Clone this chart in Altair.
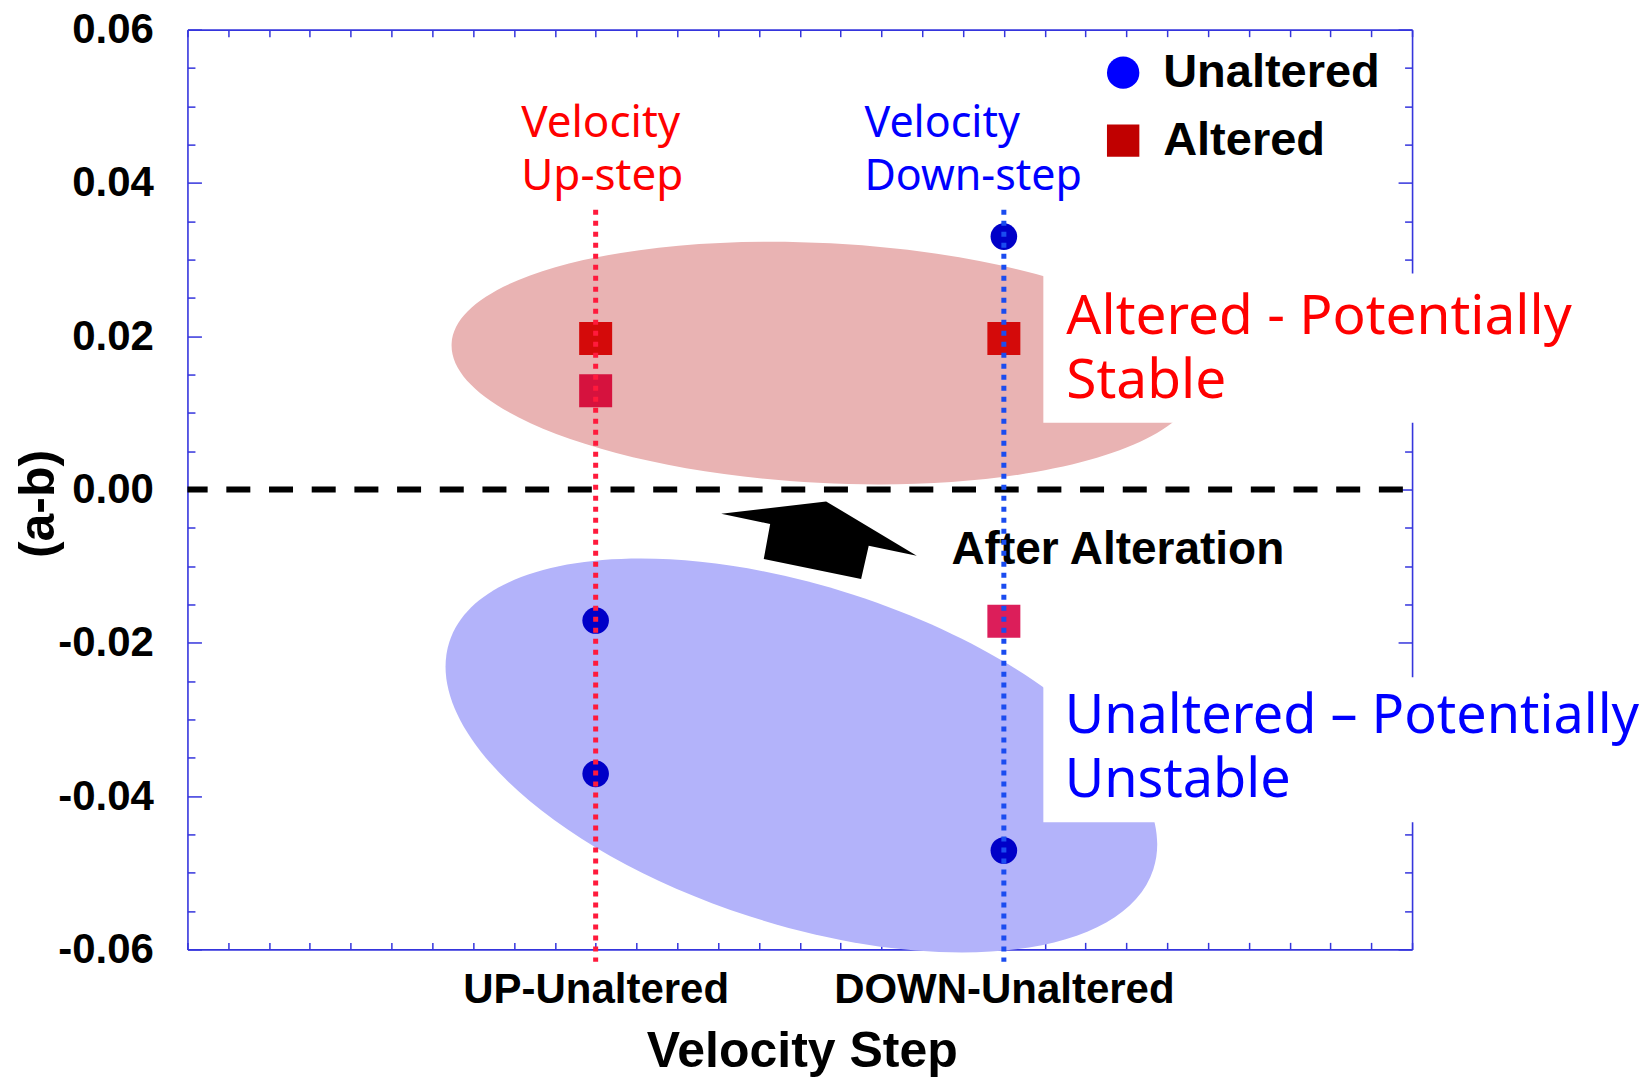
import json
import altair as alt
import pandas as pd

# ---------------- data ----------------
categories = ["UP-Unaltered", "DOWN-Unaltered"]
series_names = ["Unaltered", "Altered"]

unaltered_step = ["UP-Unaltered", "UP-Unaltered", "DOWN-Unaltered", "DOWN-Unaltered"]
unaltered_ab = [-0.0171, -0.0371, 0.0330, -0.0471]
altered_step = ["UP-Unaltered", "UP-Unaltered", "DOWN-Unaltered", "DOWN-Unaltered"]
altered_ab = [0.0197, 0.0129, 0.0197, -0.0172]

y_tick_values = [-0.06, -0.04, -0.02, 0.0, 0.02, 0.04, 0.06]
y_minor_ticks = [round(i * 0.005, 3) for i in range(-12, 13)]
x_minor_ticks = [round(i * 0.1, 1) for i in range(0, 31)]

# ---------------- styles ----------------
unaltered_colors = ["#0000c8", "#0000c8", "#0000c8", "#0000c8"]
altered_colors = ["#d40a0a", "#d6123e", "#d40a0a", "#dc1e5a"]
guide_colors = ["#ff1a3c", "#1a4cf0"]

FONT = "Liberation Sans"
HAND = "Noto Sans"
FRAME = "#3535dd"
W, H = 1225, 920

pos = {c: i + 1 for i, c in enumerate(categories)}
points = pd.DataFrame({
    "step": unaltered_step + altered_step,
    "ab": unaltered_ab + altered_ab,
    "Type": ["Unaltered"] * len(unaltered_ab) + ["Altered"] * len(altered_ab),
    "shade": unaltered_colors + altered_colors,
})
points["pos"] = points["step"].map(pos)

guides = pd.DataFrame({
    "step": categories,
    "top": [0.0365, 0.0365],
    "bottom": [-0.0616, -0.0616],
    "shade": guide_colors,
})
guides["pos"] = guides["step"].map(pos)

xs = alt.Scale(domain=[0, 3], nice=False, zero=False)
ys = alt.Scale(domain=[-0.06, 0.06], nice=False, zero=False)

ytick = {"condition": {"test": "abs(datum.value * 50 - round(datum.value * 50)) < 0.001", "value": 14},
         "value": 7.5}

ax_y_labels = alt.Axis(
    orient="left", values=y_tick_values,
    labelExpr="(datum.value < 0 ? '-' : '') + format(abs(datum.value), '.2f')",
    labelFont=FONT, labelFontSize=42, labelFontWeight="bold", labelColor="black",
    labelPadding=34, labelBaseline="middle", labelOverlap=False, labelFlush=False, labelLimit=400,
    ticks=False, tickSize=0, domain=True, domainColor=FRAME, domainWidth=1.6, grid=False,
    title="(a-b)", titleFont=FONT, titleFontSize=50, titleFontWeight="bold", titleColor="black",
    titleAngle=270, titleX=-133.5, titleY=474, titleAlign="center", titleBaseline="alphabetic",
    zindex=0,
)
ax_x_labels = alt.Axis(
    orient="bottom", values=[1, 2],
    labelExpr=f"{json.dumps(categories)}[round(datum.value) - 1]",
    labelFont=FONT, labelFontSize=42, labelFontWeight="bold", labelColor="black",
    labelPadding=53, labelBaseline="alphabetic", labelAlign="center",
    labelOverlap=False, labelFlush=False, labelLimit=600,
    ticks=False, tickSize=0, domain=True, domainColor=FRAME, domainWidth=1.6, grid=False,
    title="Velocity Step", titleFont=FONT, titleFontSize=50, titleFontWeight="bold",
    titleColor="black", titleX=614.5, titleY=117, titleAlign="center", titleBaseline="alphabetic",
    titleLimit=800, zindex=0,
)
ax_y_left_ticks = alt.Axis(
    orient="right", offset=-W, values=y_minor_ticks, labels=False, domain=False,
    ticks=True, tickColor=FRAME, tickWidth=1.5, tickSize=ytick, grid=False, title=None, zindex=0,
)
ax_y_right = alt.Axis(
    orient="left", offset=-W, values=y_minor_ticks, labels=False, domain=True,
    domainColor=FRAME, domainWidth=1.6,
    ticks=True, tickColor=FRAME, tickWidth=1.5, tickSize=ytick, grid=False, title=None, zindex=0,
)
ax_x_bottom_ticks = alt.Axis(
    orient="top", offset=-H, values=x_minor_ticks, labels=False, domain=False,
    ticks=True, tickColor=FRAME, tickWidth=1.5, tickSize=7, grid=False, title=None, zindex=0,
)
ax_x_top = alt.Axis(
    orient="bottom", offset=-H, values=x_minor_ticks, labels=False, domain=True,
    domainColor=FRAME, domainWidth=1.6,
    ticks=True, tickColor=FRAME, tickWidth=1.5, tickSize=7, grid=False, title=None, zindex=0,
)


def xd(v):
    return alt.XDatum(datum=v, scale=xs, axis=None)


def yd(v):
    return alt.YDatum(datum=v, scale=ys, axis=None)


def ellipse_path(ry):
    k = 0.5523
    return (f"M -1 0 C -1 {-k*ry:.4f} {-k:.4f} {-ry:.4f} 0 {-ry:.4f} "
            f"C {k:.4f} {-ry:.4f} 1 {-k*ry:.4f} 1 0 "
            f"C 1 {k*ry:.4f} {k:.4f} {ry:.4f} 0 {ry:.4f} "
            f"C {-k:.4f} {ry:.4f} -1 {k*ry:.4f} -1 0 Z")


arrow_path = ("M -0.978 -0.26 L 0.072 -0.383 L 0.978 0.16 L 0.498 0.06 "
              "L 0.422 0.393 L -0.552 0.193 L -0.488 -0.157 Z")

pink_region = alt.Chart().mark_point(
    shape=ellipse_path(0.3213), size=558009, angle=3, filled=True,
    color="#e9b3b3", opacity=1, strokeWidth=0,
).encode(x=xd(1.5606), y=yd(0.0165))

blue_region = alt.Chart().mark_point(
    shape=ellipse_path(0.4568), size=547600, angle=17.9, filled=True,
    color="#b3b3fa", opacity=1, strokeWidth=0,
).encode(x=xd(1.504), y=yd(-0.0347))

box_pink = alt.Chart().mark_rect(color="white").encode(
    x=xd(2.0967), x2=alt.X2Datum(datum=3.5557), y=yd(0.0282), y2=alt.Y2Datum(datum=0.0087))
box_blue = alt.Chart().mark_rect(color="white").encode(
    x=xd(2.0967), x2=alt.X2Datum(datum=3.5557), y=yd(-0.0245), y2=alt.Y2Datum(datum=-0.0434))

zero_line = alt.Chart().mark_rule(
    color="black", strokeWidth=6, strokeDash=[24, 18.7], strokeDashOffset=33.5
).encode(y=yd(0))

arrow = alt.Chart().mark_point(
    shape=arrow_path, size=40000, filled=True, color="black", opacity=1, strokeWidth=0
).encode(x=xd(1.547), y=yd(-0.00655))

txt_up = alt.Chart().mark_text(
    align="left", baseline="alphabetic", font=HAND, fontSize=44, lineHeight=53, color="#ff0000"
).encode(x=xd(0.8176), y=yd(0.0460), text=alt.value(["Velocity", "Up-step"]))
txt_down = alt.Chart().mark_text(
    align="left", baseline="alphabetic", font=HAND, fontSize=43, lineHeight=53, color="#0000ff"
).encode(x=xd(1.6585), y=yd(0.0460), text=alt.value(["Velocity", "Down-step"]))
txt_stable = alt.Chart().mark_text(
    align="left", baseline="alphabetic", font=HAND, fontSize=55, lineHeight=64, color="#ff0000"
).encode(x=xd(2.153), y=yd(0.0203), text=alt.value(["Altered - Potentially", "Stable"]))
txt_unstable = alt.Chart().mark_text(
    align="left", baseline="alphabetic", font=HAND, fontSize=54, lineHeight=64, color="#0000ff"
).encode(x=xd(2.149), y=yd(-0.0318), text=alt.value(["Unaltered \u2013 Potentially", "Unstable"]))
txt_after = alt.Chart().mark_text(
    align="left", baseline="alphabetic", font=FONT, fontSize=46, fontWeight="bold", color="black"
).encode(x=xd(1.8715), y=yd(-0.0097), text=alt.value("After Alteration"))

base = alt.Chart(points)

circles = base.transform_filter(alt.datum.Type == "Unaltered").mark_point(
    shape="circle", filled=True, size=707, opacity=1, strokeWidth=0
).encode(
    x=alt.X("pos:Q", scale=xs, axis=ax_x_labels),
    y=alt.Y("ab:Q", scale=ys, axis=ax_y_labels),
    fill=alt.Fill("shade:N", scale=None),
)
squares = base.transform_filter(alt.datum.Type == "Altered").mark_point(
    shape="square", filled=True, size=1089, opacity=1, strokeWidth=0
).encode(
    x=alt.X("pos:Q", scale=xs, axis=ax_x_bottom_ticks),
    y=alt.Y("ab:Q", scale=ys, axis=ax_y_left_ticks),
    fill=alt.Fill("shade:N", scale=None),
)

leg = alt.Legend(
    orient="none", legendX=912.5, legendY=19.5, title=None,
    labelFont=FONT, labelFontSize=47, labelFontWeight="bold", labelColor="black", labelLimit=600,
    symbolSize=1050, symbolOpacity=1, symbolStrokeWidth=0, labelOffset=16.5,
    rowPadding=20, padding=0,
)
legend_layer = base.mark_point(filled=True, opacity=0, size=1050).encode(
    x=alt.X("pos:Q", scale=xs, axis=ax_x_top),
    y=alt.Y("ab:Q", scale=ys, axis=ax_y_right),
    color=alt.Color("Type:N", scale=alt.Scale(domain=series_names, range=["#0000ff", "#c00000"]), legend=leg),
    shape=alt.Shape("Type:N", scale=alt.Scale(domain=series_names, range=["circle", "square"]), legend=leg),
)

guide_lines = alt.Chart(guides).mark_rule(strokeWidth=5, strokeDash=[5, 6]).encode(
    x=alt.X("pos:Q", scale=xs, axis=None),
    y=alt.Y("top:Q", scale=ys, axis=None),
    y2=alt.Y2("bottom:Q"),
    stroke=alt.Stroke("shade:N", scale=None),
)

chart = alt.layer(
    pink_region, blue_region, box_pink, box_blue, zero_line, arrow,
    txt_up, txt_down, txt_stable, txt_unstable, txt_after,
    circles, squares, legend_layer, guide_lines,
).resolve_axis(x="independent", y="independent").properties(
    width=W, height=H,
    autosize=alt.AutoSizeParams(type="none"),
    padding={"left": 179.5, "top": 21.5, "right": 232, "bottom": 128.5},
    background="white",
).configure_view(stroke=None)

chart.save("out.html", embed_options={"renderer": "svg", "actions": False})
